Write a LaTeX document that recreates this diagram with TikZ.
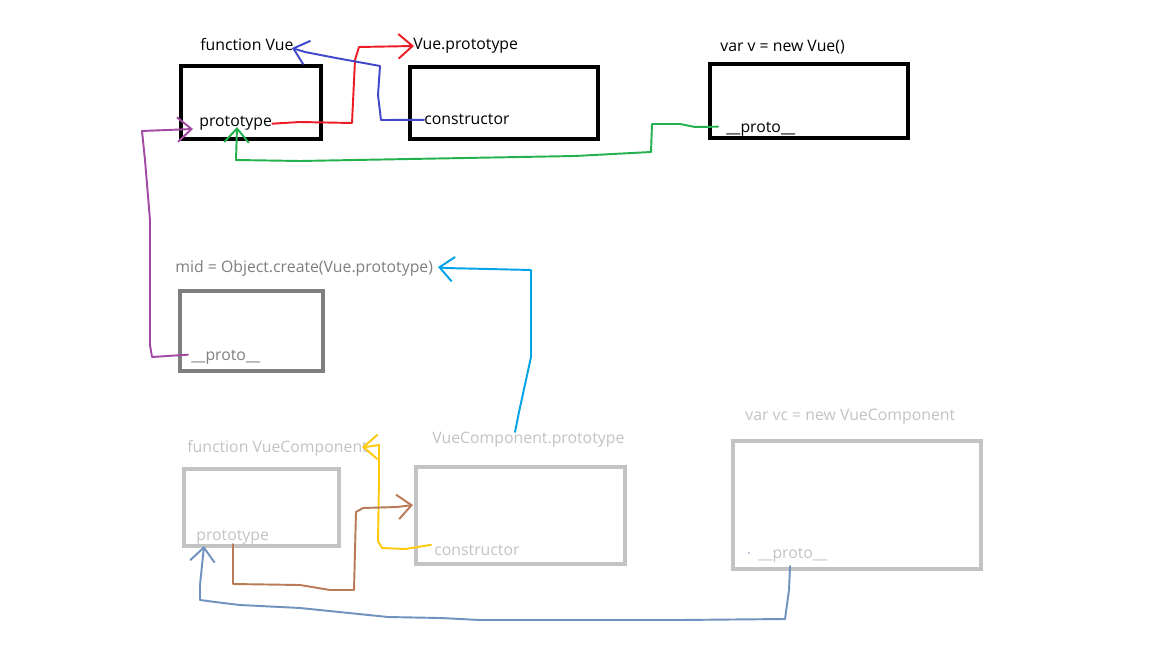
\documentclass[tikz,border=0pt]{standalone}
\usepackage{fontspec}
\setmainfont{Open Sans}
\usetikzlibrary{arrows.meta,calc,fit}
\definecolor{penred}{RGB}{237,28,36}
\definecolor{penblue}{RGB}{63,72,204}
\definecolor{pengreen}{RGB}{34,177,76}
\definecolor{penpurple}{RGB}{163,73,164}
\definecolor{pencyan}{RGB}{0,162,232}
\definecolor{penyellow}{RGB}{255,201,14}
\definecolor{penbrown}{RGB}{185,122,87}
\definecolor{pensteel}{RGB}{112,146,190}
\definecolor{midgray}{RGB}{127,127,127}
\definecolor{lightgray}{RGB}{195,195,195}
\begin{document}
\begin{tikzpicture}[x=0.02cm,y=-0.02cm,
  lbl/.style={anchor=base west,inner sep=0pt,font=\fontsize{9}{11}\selectfont},
  topbox/.style={draw=black,line width=2.8pt,inner sep=0pt},
  midbox/.style={draw=midgray,line width=2.3pt,inner sep=0pt},
  lowbox/.style={draw=lightgray,line width=2.3pt,inner sep=0pt},
  pen/.style={line width=1.1pt,line join=round,line cap=round,
    -{Straight Barb[length=8pt,width=14pt,line width=1.1pt]}}]
\useasboundingbox[fill=white] (0,0) rectangle (1152,648);

% boxes
\node[topbox, fit={(181,66) (321,139)}] (vuebox) {};
\node[topbox, fit={(410,67) (598,139)}] (vpbox) {};
\node[topbox, fit={(710,64) (908,138)}] (vbox) {};
\node[midbox, fit={(180,291) (323,371)}] (midb) {};
\node[lowbox, fit={(184,469) (339,546)}] (vcbox) {};
\node[lowbox, fit={(416,467) (625,564)}] (vcpbox) {};
\node[lowbox, fit={(733,441) (981,569)}] (vcibox) {};

% labels
\node[lbl] (t1) at (200,51) {function Vue};
\node[lbl] (t2) at (413,50) {Vue.prototype};
\node[lbl] (t3) at (720,52) {var v = new Vue()};
\node[lbl] (p1) at (199,127) {prototype};
\node[lbl] (c1) at (424,125) {constructor};
\node[lbl] (v1) at (726,133) {\_\_proto\_\_};
\node[lbl,text=midgray] (m0) at (175,273) {mid = Object.create(Vue.prototype)};
\node[lbl,text=midgray] (m1) at (191,360) {\_\_proto\_\_};
\node[lbl,text=lightgray] (b0) at (187,452) {function VueComponent};
\node[lbl,text=lightgray] (b1) at (196,540) {prototype};
\node[lbl,text=lightgray] (b2) at (432,443) {VueComponent.prototype};
\node[lbl,text=lightgray] (b3) at (434,555) {constructor};
\node[lbl,text=lightgray] (b4) at (745,420) {var vc = new VueComponent};
\node[lbl,text=lightgray] (b5) at (758,558) {\_\_proto\_\_};

% arrow tips
\coordinate (redtip) at (414,46);
\coordinate (bluetip) at (292,48);
\coordinate (greentip) at (237,127);
\coordinate (purpletip) at (193,129);
\coordinate (cyantip) at (438,267);
\coordinate (yellowtip) at (362,447);
\coordinate (browntip) at (413,505);
\coordinate (steeltip) at (204,546);

% connectors
\draw[pen,penred] (p1.east) -- (300,122) -- (352,123) -- (355,60) -- (359,47) -- (redtip);
\draw[pen,penblue] (c1.west) -- (381,120) -- (378,95) -- (380,66) -- (336,58) -- (305,52) -- (bluetip);
\draw[pen,pengreen] ($(v1.west)+(-8,-3)$) -- (695,127) -- (680,124) -- (652,124) -- (651,152) -- (575,156) -- (300,161) -- (236,160) -- (greentip);
\draw[pen,penpurple] (m1.west) ++(-3,-2) -- (152,357) -- (150,345) -- (150,220) -- (145,160) -- (142,131) -- (purpletip);
\draw[pen,pencyan] (515,432) -- (519,412) -- (531,357) -- (531,270) -- (445,268) -- (cyantip);
\draw[pen,penyellow] ($(b3.west)+(-3,-5)$) -- (405,549) -- (382,548) -- (378,541) -- (379,480) -- (379,445) -- (365,447) -- (yellowtip);
\draw[pen,penbrown] (233,544) -- (233,584) -- (300,585) -- (330,590) -- (354,590) -- (356,512) -- (363,508) -- (397,507) -- (browntip);
\draw[pen,pensteel] (790,566) -- (789,590) -- (785,619) -- (680,620) -- (480,620) -- (440,618) -- (388,617) -- (300,608) -- (240,605) -- (215,602) -- (200,600) -- (200,585) -- (steeltip);
\fill[pensteel] (749,553) circle (0.9);
\end{tikzpicture}
\end{document}
